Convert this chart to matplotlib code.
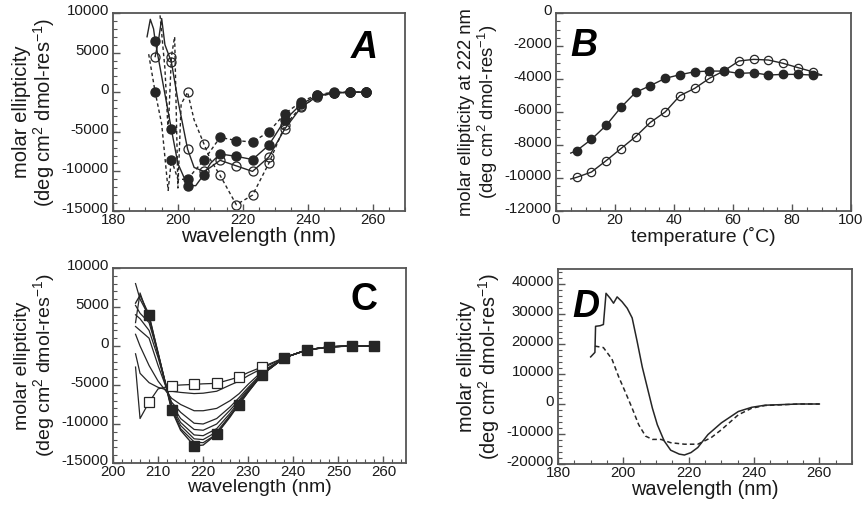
import numpy as np
import matplotlib
matplotlib.use("Agg")
import matplotlib.pyplot as plt
import matplotlib.transforms as mtransforms
from matplotlib.ticker import MultipleLocator

plt.rcParams['font.family'] = ['Liberation Sans', 'DejaVu Sans']
plt.rcParams['axes.unicode_minus'] = False
plt.rcParams['mathtext.fontset'] = 'custom'
plt.rcParams['mathtext.rm'] = 'Liberation Sans'
plt.rcParams['mathtext.default'] = 'regular'

# ---------------- Panel A data ----------------
# filled circles, dashed line
a1_x = [191, 193, 195, 197, 198, 200, 203, 205, 208, 213, 218, 223, 228, 233, 238, 243, 248, 253, 258]
a1_y = [4800, 0, -4000, -12400, -8500, -11000, -11000, -10000, -8600, -5700, -6100, -6300, -5000, -2700, -1200, -300, 0, 0, 0]
# filled circles, solid line
a2_x = [190.5, 191.5, 192.5, 193, 195, 198, 200, 203, 205.5, 208, 210, 213, 218, 223, 228, 233, 238, 243, 248, 253, 258]
a2_y = [7000, 9200, 8000, 6500, 2000, -4700, -9000, -11800, -11800, -10400, -9000, -7800, -8100, -8500, -6700, -3500, -1500, -400, -100, 0, 0]
# open circles, solid line
a3_x = [193, 194, 195, 196, 198, 200, 203, 205, 208, 210, 213, 218, 223, 228, 233, 238, 243, 248, 253, 258]
a3_y = [4500, 6500, 9300, 6000, 3800, -1000, -7200, -9500, -10000, -9500, -8600, -9300, -10000, -8200, -4600, -1900, -500, -100, 0, 0]
# open circles, dashed line
a4_x = [194.5, 196, 197, 198, 199, 200, 201, 203, 205, 208, 210, 213, 218, 223, 228, 233, 238, 243, 248, 253, 258]
a4_y = [9700, 3000, -5000, 4500, 7000, -12100, -1500, 0, -3500, -6500, -8500, -10500, -14200, -13000, -9000, -4200, -1800, -600, -100, 0, 0]
a_mark = [193, 198, 203, 208, 213, 218, 223, 228, 233, 238, 243, 248, 253, 258]

# ---------------- Panel B data ----------------
b_temp = [7, 12, 17, 22, 27, 32, 37, 42, 47, 52, 57, 62, 67, 72, 77, 82, 87]
b_filled = [-8340, -7660, -6810, -5720, -4810, -4400, -3960, -3740, -3560, -3520, -3520, -3660, -3620, -3760, -3720, -3720, -3760]
b_open = [-9960, -9640, -8950, -8220, -7490, -6630, -6000, -5010, -4570, -3960, -3500, -2910, -2810, -2850, -3050, -3310, -3560]

# ---------------- Panel C data ----------------
c_x = [205, 206, 208, 210, 213, 215, 218, 220, 223, 226, 228, 230, 233, 238, 243, 248, 253, 258]
c_open = [-2700, -9300, -7200, -5500, -5080, -5000, -4920, -4850, -4790, -4300, -3960, -3400, -2700, -1500, -500, -100, 0, 0]
c_mid = [
    [-1000, -3500, -4700, -5300, -5800, -5950, -6100, -6050, -5800, -5000, -4500, -3800, -2900, -1500, -500, -100, 0, 0],
    [1500, 0, -2500, -4500, -6700, -7500, -8300, -8300, -8000, -7000, -6100, -4900, -3300, -1500, -500, -100, 0, 0],
    [2500, 2000, 1000, -2500, -7200, -8500, -9900, -10000, -9300, -7800, -6600, -5300, -3500, -1500, -500, -100, 0, 0],
    [4000, 3500, 2000, -1500, -7500, -9300, -10700, -10800, -10000, -8200, -6900, -5500, -3600, -1500, -500, -100, 0, 0],
    [5200, 4200, 3000, -1000, -7800, -9800, -11400, -11500, -10600, -8600, -7100, -5700, -3700, -1500, -500, -100, 0, 0],
    [3000, 6800, 3500, -1000, -8000, -10200, -11900, -12000, -11000, -8900, -7300, -5800, -3700, -1500, -500, -100, 0, 0],
    [8000, 6000, 3800, -800, -8100, -10600, -12300, -12400, -11300, -9100, -7400, -5900, -3700, -1500, -500, -100, 0, 0],
]
c_filled = [5500, 6500, 4000, -1000, -8200, -10800, -12800, -12700, -11300, -8900, -7500, -5900, -3700, -1500, -540, -120, 0, 0]
c_mark = [208, 213, 218, 223, 228, 233, 238, 243, 248, 253, 258]

# ---------------- Panel D data ----------------
d_solid_x = [190.0, 191.3, 191.5, 192.9, 193.9, 194.7, 196.0, 197.0, 198.1, 199.6, 201.2, 202.7, 204.2, 205.8,
             208.9, 210.4, 212.5, 214.5, 217.1, 218.7, 220.7, 222.8, 225.9, 230.0, 235.2, 239.3, 243.4, 253.7, 260.0]
d_solid_y = [15700, 17200, 25900, 26100, 26500, 36900, 35200, 33600, 35700, 34100, 31900, 28700, 21000, 12300,
             -1400, -6900, -12300, -15400, -16700, -17000, -16200, -14500, -10200, -6300, -2500, -1100, -400, 0, 0]
d_dash_x = [191.3, 193.9, 196.5, 198.6, 200.6, 202.7, 204.7, 206.8, 208.9, 211.5, 214.5, 218.7, 222.8, 226.9,
            230.0, 235.2, 239.3, 243.4, 253.7, 260.0]
d_dash_y = [19300, 18800, 15000, 9000, 4000, -1400, -6900, -10700, -11800, -11800, -12900, -13400, -13400, -11200,
            -8600, -3600, -1400, -500, 0, 0]

LC = '#262626'
SP = '#555555'
TXT = '#1a1a1a'
fig = plt.figure(figsize=(8.65, 5.09), dpi=100)
yshift = mtransforms.ScaledTranslation(0, 2.5 / 72, fig.dpi_scale_trans)

def style(ax, xmaj, xmin, ymaj, ymin):
    for s in ax.spines.values():
        s.set_color(SP)
        s.set_linewidth(1.3)
    ax.xaxis.set_major_locator(MultipleLocator(xmaj))
    ax.xaxis.set_minor_locator(MultipleLocator(xmin))
    ax.yaxis.set_major_locator(MultipleLocator(ymaj))
    ax.yaxis.set_minor_locator(MultipleLocator(ymin))
    ax.tick_params(which='both', direction='in', top=False, right=False, color=SP)
    ax.tick_params(which='major', length=5, width=1.0, labelsize=10.8, labelcolor=TXT)
    ax.tick_params(axis='x', which='major', pad=1.5)
    ax.tick_params(axis='y', which='major', pad=3)
    ax.tick_params(which='minor', length=3, width=0.8)
    for lab in ax.get_yticklabels():
        lab.set_transform(lab.get_transform() + yshift)

def marks(xs, sel):
    return [i for i, v in enumerate(xs) if v in sel]

ylab = 'molar ellipticity\n(deg cm$^2$ dmol-res$^{-1}$)'
lab_kw = dict(color=TXT, linespacing=1.05)
let_kw = dict(fontsize=27, fontweight='bold', color='black')

# Panel A
axA = fig.add_axes([113/865, 1-211/509, 292/865, 198/509])
axA.plot(a1_x, a1_y, ls=(0, (2.5, 2)), color=LC, lw=1.0, marker='o', ms=6.5, mfc=LC, mec=LC,
         markevery=marks(a1_x, a_mark))
axA.plot(a2_x, a2_y, ls='-', color=LC, lw=1.0, marker='o', ms=6.5, mfc=LC, mec=LC,
         markevery=marks(a2_x, a_mark))
axA.plot(a3_x, a3_y, ls='-', color=LC, lw=1.0, marker='o', ms=6.5, mfc='none', mec=LC, mew=0.9,
         markevery=marks(a3_x, a_mark))
axA.plot(a4_x, a4_y, ls=(0, (2.5, 2)), color=LC, lw=1.0, marker='o', ms=6.5, mfc='none', mec=LC, mew=0.9,
         markevery=marks(a4_x, a_mark))
axA.set_xlim(180, 270)
axA.set_ylim(-15000, 10000)
style(axA, 20, 5, 5000, 1000)
axA.set_xlabel('wavelength (nm)', labelpad=0, fontsize=15, **lab_kw)
axA.set_ylabel(ylab, labelpad=3, fontsize=14.5, **lab_kw)
axA.text(0.907, 0.915, 'A', transform=axA.transAxes, ha='right', va='top', fontstyle='italic', **let_kw)

# Panel B
axB = fig.add_axes([556/865, 1-211/509, 295/865, 198/509])
bx_line = [5] + b_temp + [90]
axB.plot(bx_line, [b_filled[0] - 150] + b_filled + [b_filled[-1]], color=LC, lw=1.0)
axB.plot(bx_line, [b_open[0] - 100] + b_open + [b_filled[-1]], color=LC, lw=1.0)
axB.plot(b_temp, b_filled, ls='none', marker='o', ms=6, mfc=LC, mec=LC)
axB.plot(b_temp, b_open, ls='none', marker='o', ms=6, mfc='none', mec=LC, mew=0.9)
axB.set_xlim(0, 100)
axB.set_ylim(-12000, 0)
style(axB, 20, 5, 2000, 500)
axB.set_xlabel('temperature (˚C)', labelpad=0, fontsize=14, **lab_kw)
axB.set_ylabel('molar ellipticity at 222 nm\n(deg cm$^2$ dmol-res$^{-1}$)', labelpad=3, fontsize=13.3, **lab_kw)
axB.text(0.05, 0.925, 'B', transform=axB.transAxes, ha='left', va='top', fontstyle='italic', **let_kw)

# Panel C
axC = fig.add_axes([113/865, 1-463/509, 293/865, 195/509])
for cy in c_mid:
    axC.plot(c_x, cy, color=LC, lw=0.9)
axC.plot(c_x, c_open, color=LC, lw=0.9, marker='s', ms=6.5, mfc='white', mec=LC, mew=0.9,
         markevery=marks(c_x, c_mark[:6]))
axC.plot(c_x, c_filled, color=LC, lw=1.0, marker='s', ms=6.5, mfc=LC, mec=LC,
         markevery=marks(c_x, c_mark))
axC.set_xlim(200, 265)
axC.set_ylim(-15000, 10000)
style(axC, 10, 2, 5000, 1000)
axC.set_xlabel('wavelength (nm)', labelpad=0, fontsize=14, **lab_kw)
axC.set_ylabel(ylab, labelpad=3, fontsize=14, **lab_kw)
axC.text(0.904, 0.93, 'C', transform=axC.transAxes, ha='right', va='top', **let_kw)

# Panel D
axD = fig.add_axes([558/865, 1-464/509, 294/865, 195/509])
axD.plot(d_solid_x, d_solid_y, color=LC, lw=1.1)
axD.plot(d_dash_x, d_dash_y, color=LC, lw=1.1, ls=(0, (3, 2)))
axD.set_xlim(180, 270)
axD.set_ylim(-20000, 45000)
style(axD, 20, 5, 10000, 2000)
axD.set_xlabel('wavelength (nm)', labelpad=0, fontsize=14.3, **lab_kw)
axD.set_ylabel(ylab, labelpad=3, fontsize=14.3, **lab_kw)
axD.text(0.05, 0.895, 'D', transform=axD.transAxes, ha='left', va='top', fontstyle='italic', **let_kw)

fig.savefig('out.png', dpi=100)
